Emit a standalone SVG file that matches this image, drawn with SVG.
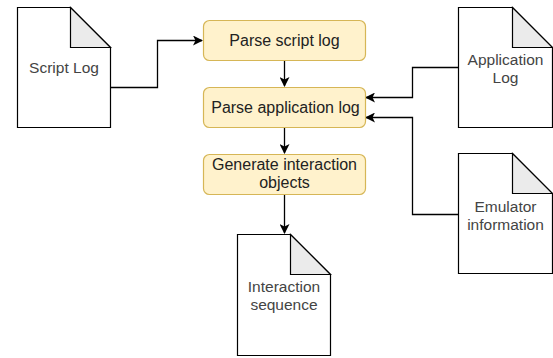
<svg xmlns="http://www.w3.org/2000/svg" width="553" height="358" viewBox="0 0 553 358">
<defs>
<style>
.doc{fill:#ffffff;stroke:#000000;stroke-width:1.2}
.fold{fill:#ebebeb;stroke:#000000;stroke-width:1.2}
.box{fill:#fff2cc;stroke:#d6b656;stroke-width:1.2}
.t{font-family:"Liberation Sans",Arial,sans-serif;font-size:15.5px;fill:#444444;text-anchor:middle}
.b{fill:#222222;font-size:16px}
.e{fill:none;stroke:#000000;stroke-width:1.3}
</style>
<marker id="arr" viewBox="0 0 10 10" refX="9" refY="5" markerWidth="10" markerHeight="10" markerUnits="userSpaceOnUse" orient="auto">
<path d="M0,0 L10,5 L0,10 L2.5,5 Z" fill="#000000"/>
</marker>
</defs>
<rect width="553" height="358" fill="#ffffff"/>
<g id="connectors">
<path class="e" d="M110.5,87.5 H157.5 V40.5 H202" marker-end="url(#arr)"/>
<path class="e" d="M284.5,60.5 V86" marker-end="url(#arr)"/>
<path class="e" d="M284.5,127.5 V153" marker-end="url(#arr)"/>
<path class="e" d="M284.5,194.5 V233" marker-end="url(#arr)"/>
<path class="e" d="M458.5,67.5 H412.5 V97.5 H366" marker-end="url(#arr)"/>
<path class="e" d="M458.5,214.5 H412.5 V117.5 H366" marker-end="url(#arr)"/>
</g>
<g id="script-log">
<path class="doc" d="M17.5,7.5 H70.5 L110.5,47.5 V127.5 H17.5 Z"/>
<path class="fold" d="M70.5,7.5 V47.5 H110.5 Z"/>
<text class="t" x="64" y="73">Script Log</text>
</g>
<g id="parse-script-log">
<rect class="box" x="203.5" y="20.5" width="162" height="40" rx="6"/>
<text class="t b" x="284.5" y="46">Parse script log</text>
</g>
<g id="parse-application-log">
<rect class="box" x="203.5" y="87.5" width="162" height="40" rx="6"/>
<text class="t b" x="285.5" y="113">Parse application log</text>
</g>
<g id="generate-interaction-objects">
<rect class="box" x="203.5" y="154.5" width="162" height="40" rx="6"/>
<text class="t b" x="284.5" y="170">Generate interaction</text>
<text class="t b" x="284.5" y="188">objects</text>
</g>
<g id="interaction-sequence">
<path class="doc" d="M237.5,234.5 H290.5 L330.5,274.5 V355.5 H237.5 Z"/>
<path class="fold" d="M290.5,234.5 V274.5 H330.5 Z"/>
<text class="t" x="284" y="292">Interaction</text>
<text class="t" x="284" y="310">sequence</text>
</g>
<g id="application-log">
<path class="doc" d="M458.5,7.5 H512.5 L552.5,47.5 V127.5 H458.5 Z"/>
<path class="fold" d="M512.5,7.5 V47.5 H552.5 Z"/>
<text class="t" x="505.5" y="65">Application</text>
<text class="t" x="505.5" y="83">Log</text>
</g>
<g id="emulator-information">
<path class="doc" d="M458.5,153.5 H512.5 L552.5,193.5 V273.5 H458.5 Z"/>
<path class="fold" d="M512.5,153.5 V193.5 H552.5 Z"/>
<text class="t" x="505.5" y="212">Emulator</text>
<text class="t" x="505.5" y="230">information</text>
</g>
</svg>
